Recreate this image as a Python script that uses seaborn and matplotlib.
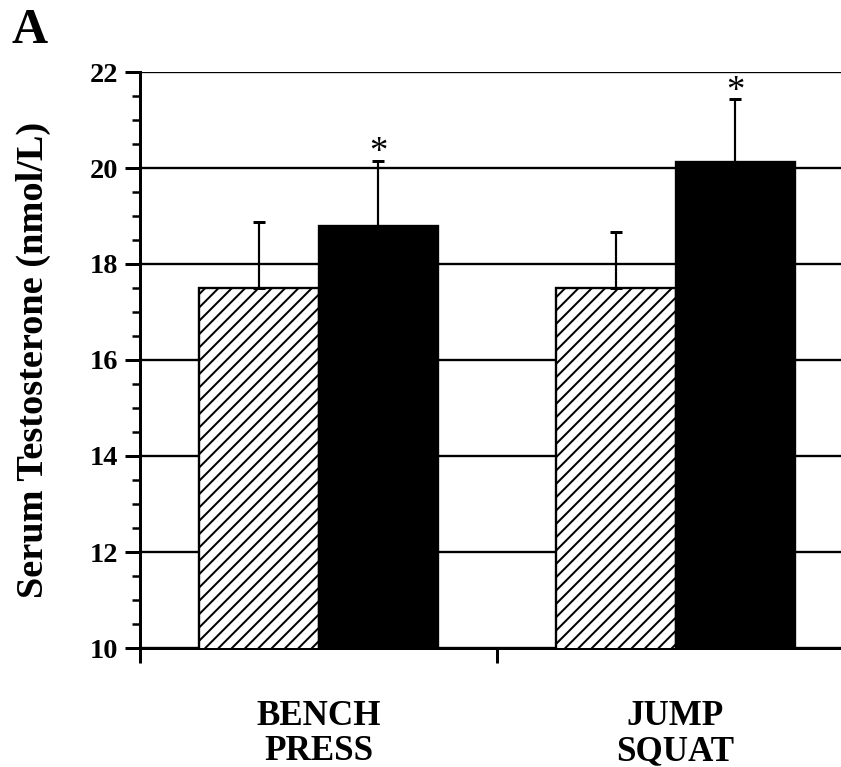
import numpy as np
import pandas as pd
import matplotlib
matplotlib.use("Agg")
import matplotlib.pyplot as plt
import seaborn as sns

# ========== data ==========
exercises = ["BENCH\nPRESS", "JUMP\nSQUAT"]
conditions = ["Pre", "Post"]
pre_means = [17.5, 17.5]
post_means = [18.8, 20.13]
pre_sd = [1.37, 1.17]
post_sd = [1.35, 1.31]
significant = [False, False, True, True]   # pre BP, pre JS, post BP, post JS

df = pd.DataFrame({
    "exercise": exercises * 2,
    "condition": [conditions[0]] * 2 + [conditions[1]] * 2,
    "value": pre_means + post_means,
})
errs = pre_sd + post_sd

# ========== style ==========
sns.set_style("white")
plt.rcParams["font.family"] = ["Liberation Serif", "DejaVu Serif"]
plt.rcParams["font.weight"] = "bold"
plt.rcParams["hatch.linewidth"] = 1.2
for k in ["text.color", "axes.labelcolor", "xtick.color", "ytick.color"]:
    plt.rcParams[k] = "black"

DPI = 120
fig = plt.figure(figsize=(841 / DPI, 767 / DPI), dpi=DPI)
ax = fig.add_axes([140 / 841, 119 / 767, 714 / 841, 576 / 767])

sns.barplot(data=df, x="exercise", y="value", hue="condition",
            palette=["white", "black"], width=0.667, errorbar=None,
            edgecolor="black", linewidth=1.4, legend=False, ax=ax,
            zorder=3)

# hatch the pre bars
for p in ax.containers[0]:
    p.set_hatch("///")

# one-sided error bars + asterisks
bars = list(ax.containers[0]) + list(ax.containers[1])
for bar, e, sig in zip(bars, errs, significant):
    cx = bar.get_x() + bar.get_width() / 2
    top = bar.get_height()
    ax.errorbar(cx, top, yerr=[[0], [e]], fmt="none", ecolor="black",
                elinewidth=1.3, capsize=3.5, capthick=1.8, zorder=4)
    if sig:
        ax.annotate("*", (cx, top + e), xytext=(0, -1), textcoords="offset points",
                    ha="center", va="baseline", fontsize=22, fontweight="normal")

# ========== axes ==========
ax.set_ylim(10, 22)
ax.set_xlim(-0.5, 1.5)
ax.set_yticks(np.arange(10, 23, 2))
ax.set_yticks(np.arange(10, 22.01, 0.5), minor=True)
ax.set_xticks([-0.5, 0.5, 1.5])
ax.set_xticklabels([])
ax.set_xticks([0, 1], exercises, minor=True)
ax.grid(axis="y", which="major", color="black", linewidth=1.4)
ax.set_axisbelow(True)

ax.tick_params(axis="y", which="major", direction="out", length=9, width=1.8,
               labelsize=17, pad=4, left=True)
ax.tick_params(axis="y", which="minor", direction="out", length=5, width=1.5, left=True)
ax.tick_params(axis="x", which="major", direction="out", length=9, width=1.8, bottom=True)
ax.tick_params(axis="x", which="minor", length=0, labelsize=21, pad=31)
for t in ax.get_xticklabels(minor=True):
    t.set_linespacing(1.1)
    t.set_fontweight("bold")
for t in ax.get_yticklabels():
    t.set_fontweight("bold")

for s in ["top", "right"]:
    ax.spines[s].set_visible(False)
for s in ["left", "bottom"]:
    ax.spines[s].set_linewidth(1.8)
    ax.spines[s].set_color("black")

ax.set_xlabel("")
ax.set_ylabel("Serum Testosterone (nmol/L)", fontsize=23, fontweight="bold", labelpad=23)

fig.text(12 / 841, 1 - 8 / 767, "A", fontsize=30, fontweight="bold", ha="left", va="top")

fig.savefig("out.png", dpi=DPI)
